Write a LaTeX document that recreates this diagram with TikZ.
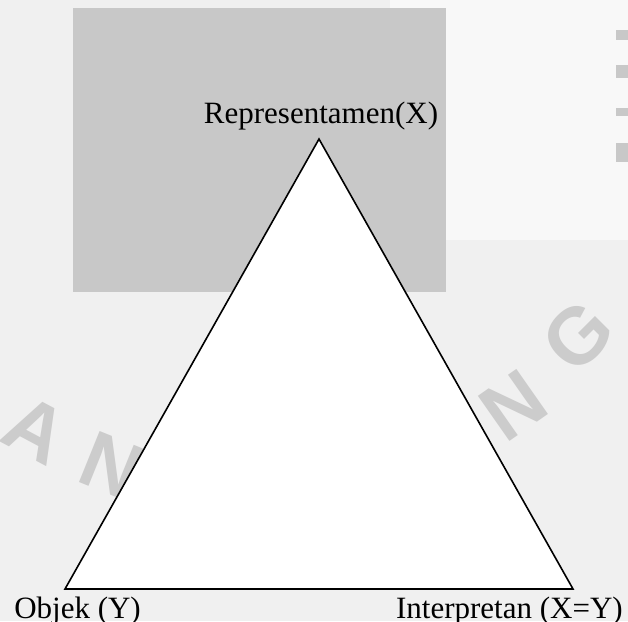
\documentclass[tikz,border=0pt]{standalone}
\usepackage{fontspec}
\setmainfont{Liberation Serif}
\newfontfamily\wmfont{Liberation Sans}
\definecolor{bgc}{HTML}{F0F0F0}
\definecolor{boxc}{HTML}{C8C8C8}
\definecolor{wmc}{HTML}{CCCCCC}
\begin{document}
\begin{tikzpicture}[x=0.75pt,y=-0.75pt,
  lbl/.style={font=\fontsize{23.25}{28}\selectfont, inner sep=0pt, text=black},
  wm/.style={font=\wmfont\bfseries\fontsize{60}{60}\selectfont, text=wmc, inner sep=0pt},
  tri/.style={draw=black, fill=white, line width=1.2pt, line join=miter}]
\useasboundingbox (0,0) rectangle (628,621);
% background
\fill[bgc] (0,0) rectangle (628,621);
\fill[white!50!bgc] (390,0) rectangle (628,240);
% grey block
\fill[boxc] (73,8) rectangle (446,292);
% watermark fragments
\node[wm, rotate=-28] (wA) at (36,430) {A};
\node[wm, rotate=-22] (wN1) at (112,466) {N};
\node[wm, rotate=35] (wN2) at (513,405) {N};
\node[wm, rotate=45] (wG) at (578,336) {G};
\fill[boxc] (616,30) rectangle (628,40);
\fill[boxc] (616,65) rectangle (628,78);
\fill[boxc] (616,108) rectangle (628,116);
\fill[boxc] (616,143) rectangle (628,162);
% triangle
\coordinate (top) at (319,139);
\coordinate (bl) at (65,589);
\coordinate (br) at (573,589);
\filldraw[tri] (top) -- (bl) -- (br) -- cycle;
% labels
\node[lbl, anchor=base] (rep) at (321,123) {Representamen(X)};
\node[lbl, anchor=base west] (obj) at (14,618) {Objek (Y)};
\node[lbl, anchor=base east] (int) at (623,618) {Interpretan (X=Y)};
\end{tikzpicture}
\end{document}
